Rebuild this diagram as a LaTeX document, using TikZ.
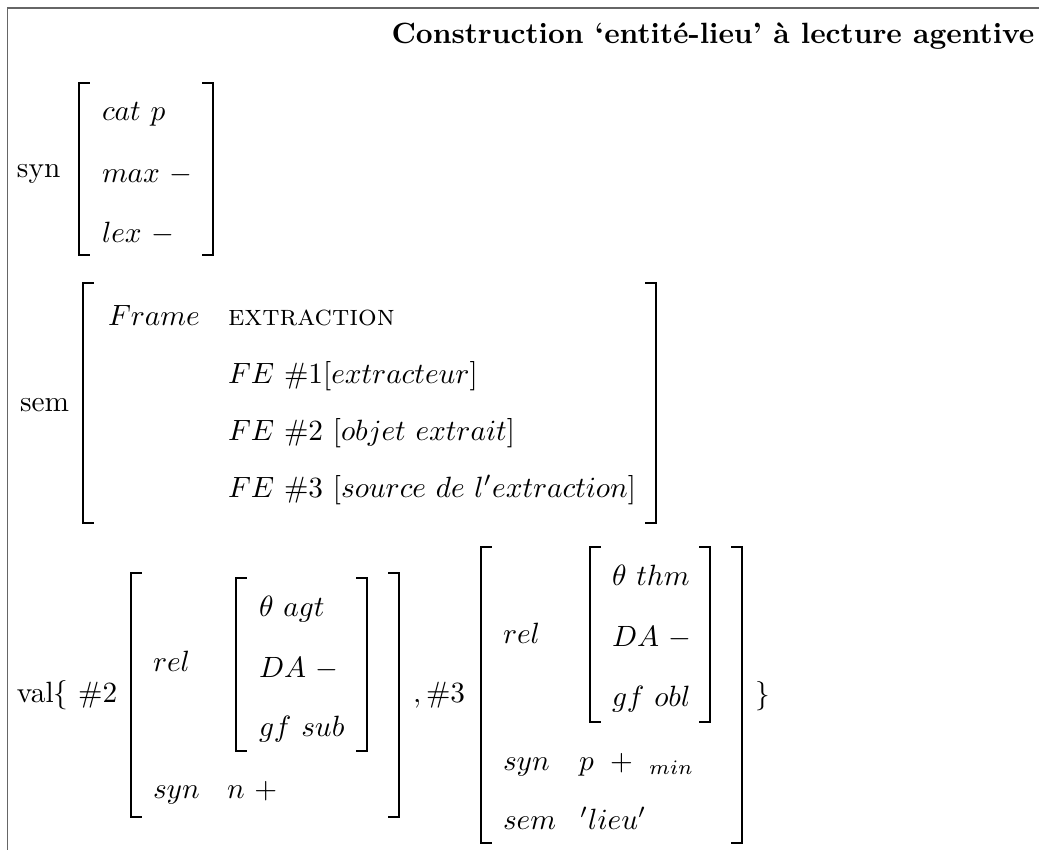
\documentclass[tikz,border=0pt]{standalone}
\begin{document}
\begin{tikzpicture}[x=0.341pt,y=-0.341pt,
  txt/.style={anchor=base west,inner sep=0pt,outer sep=0pt},
  brk/.style={line width=0.65pt,line cap=rect},
  frameline/.style={draw=black!60,line width=0.55pt}]
\useasboundingbox (0,0) rectangle (1039,850);
% helper macros for brackets
\newcommand\lbrk[3]{\draw[brk] (#1+10,#2) -- (#1,#2) -- (#1,#3) -- (#1+10,#3);}
\newcommand\rbrk[3]{\draw[brk] (#1-10,#2) -- (#1,#2) -- (#1,#3) -- (#1-10,#3);}
% frame lines
\draw[frameline] (7.5,850) -- (7.5,8) -- (1039,8);
% title
\node[anchor=base east,inner sep=0pt] (title) at (1035,44) {\textbf{Construction ‘entité-lieu’ à lecture agentive}};
% syn block
\node[txt] (synlab) at (17,177) {syn};
\lbrk{79}{83}{255}\rbrk{213}{83}{255}
\node[txt] (cat) at (102,120) {$cat\ p$};
\node[txt] (max) at (102,182) {$max\ -$};
\node[txt] (lex) at (102,242) {$lex\ -$};
% sem block
\node[txt] (semlab) at (20,411) {sem};
\lbrk{83}{283}{523}\rbrk{656}{283}{523}
\node[txt] (frame) at (108,325) {$Frame$};
\node[txt] (extr) at (228,325) {\textsc{extraction}};
\node[txt] (fe1) at (228,383) {$FE\ \#1[extracteur]$};
\node[txt] (fe2) at (228,440) {$FE\ \#2\ [objet\ extrait]$};
\node[txt] (fe3) at (228,497) {$FE\ \#3\ [source\ de\ l'extraction]$};
% val block
\node[txt] (vallab) at (17,702) {val$\{$ \#2};
\lbrk{131}{573}{817}\rbrk{399}{573}{817}
\node[txt] (rela) at (153,671) {$rel$};
\lbrk{236}{578}{751}\rbrk{367}{578}{751}
\node[txt] (agt) at (259,616) {$\theta\ agt$};
\node[txt] (daa) at (259,677) {$DA\ -$};
\node[txt] (gfa) at (259,736) {$gf\ sub$};
\node[txt] (syna) at (153,798) {$syn$};
\node[txt] (npl) at (227,798) {$n\ +$};
\node[txt] (comma) at (413,702) {$,\#3$};
\lbrk{481}{547}{843}\rbrk{742}{547}{843}
\node[txt] (relb) at (503,643) {$rel$};
\lbrk{590}{547}{722}\rbrk{710}{547}{722}
\node[txt] (thm) at (612,585) {$\theta\ thm$};
\node[txt] (dab) at (612,646) {$DA\ -$};
\node[txt] (gfb) at (612,706) {$gf\ obl$};
\node[txt] (synb) at (503,770) {$syn$};
\node[txt] (ppl) at (579,770) {$p\ +\ {}_{min}$};
\node[txt] (semb) at (503,829) {$sem$};
\node[txt] (lieu) at (580,829) {$'lieu'$};
\node[txt] (close) at (755,703) {$\}$};
\end{tikzpicture}
\end{document}
